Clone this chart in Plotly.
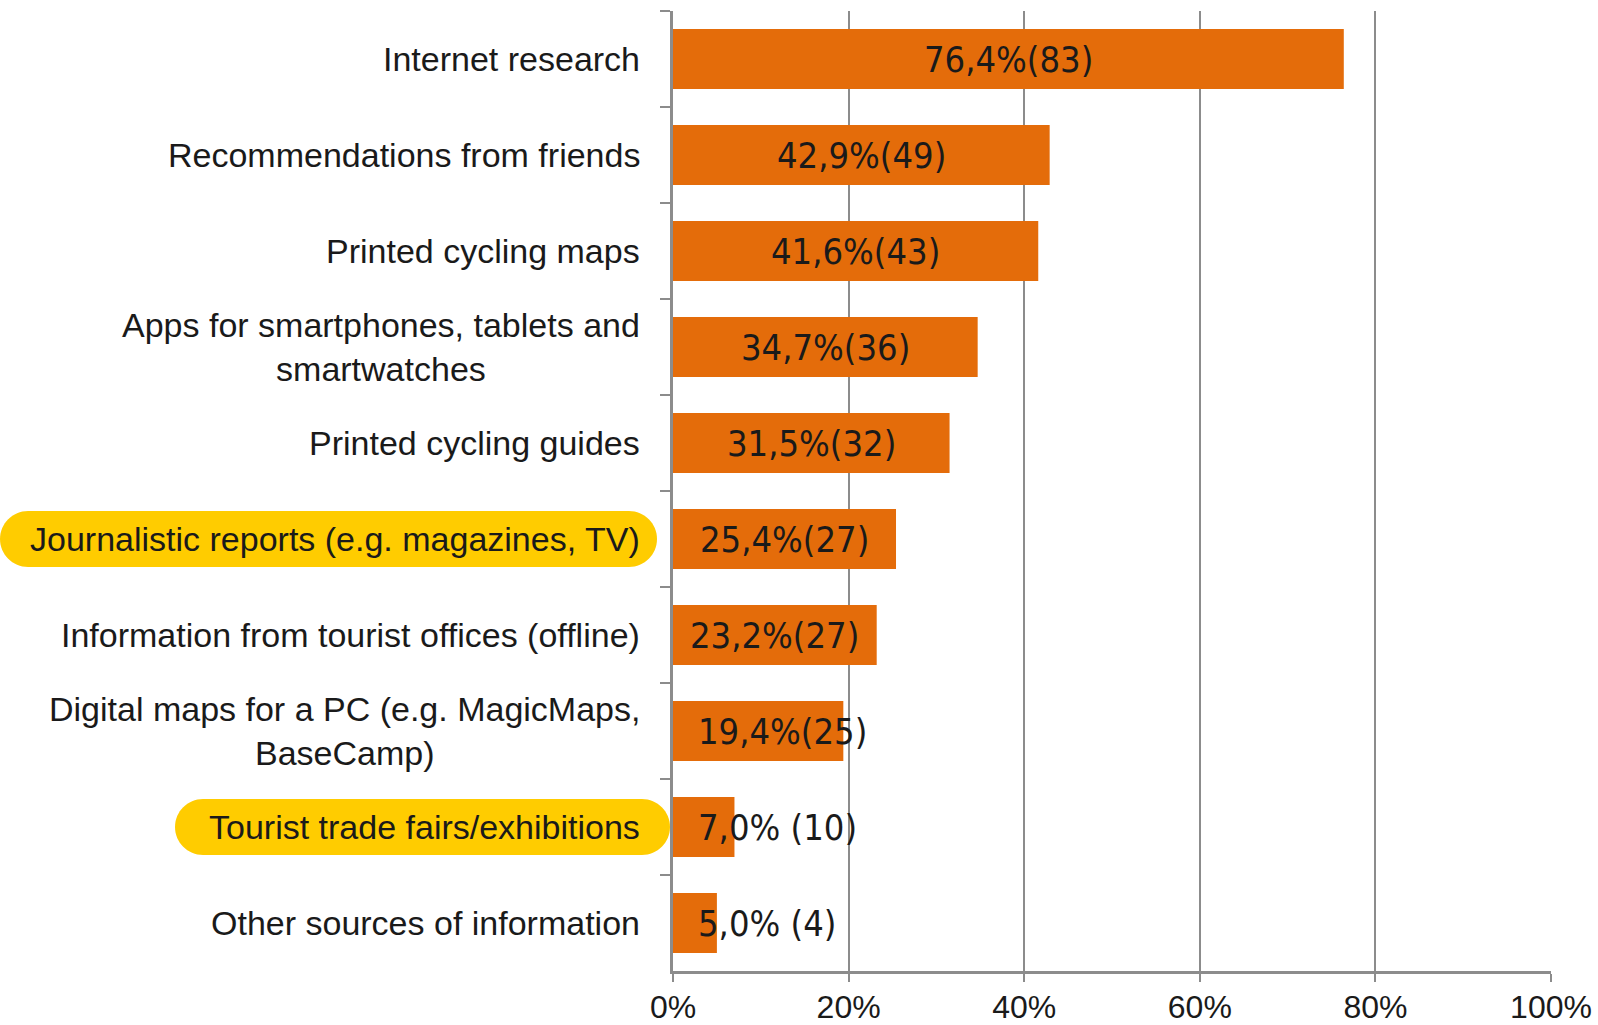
import plotly.graph_objects as go

categories = [
    "Internet research",
    "Recommendations from friends",
    "Printed cycling maps",
    "Apps for smartphones, tablets and<br>smartwatches",
    "Printed cycling guides",
    "Journalistic reports (e.g. magazines, TV)",
    "Information from tourist offices (offline)",
    "Digital maps for a PC (e.g. MagicMaps,<br>BaseCamp)",
    "Tourist trade fairs/exhibitions",
    "Other sources of information",
]
percent = [76.4, 42.9, 41.6, 34.7, 31.5, 25.4, 23.2, 19.4, 7.0, 5.0]
counts = [83, 49, 43, 36, 32, 27, 27, 25, 10, 4]
highlighted = ["Journalistic reports (e.g. magazines, TV)", "Tourist trade fairs/exhibitions"]
x_ticks = [0, 20, 40, 60, 80, 100]
x_tick_labels = ["0%", "20%", "40%", "60%", "80%", "100%"]

W, H = 1598, 1025
ML, MR, MT, MB = 673, 47, 11, 54
PW, PH = W - ML - MR, H - MT - MB
BAND = PH / len(categories)

BAR = "#E46C0A"
GRID = "#8C8C8C"
TXT = "#1A1A1A"
YELLOW = "#FFCC00"
SANS = "Liberation Sans, Arial, sans-serif"
NARROW = "Liberation Sans Narrow, Arial Narrow, DejaVu Sans Condensed, sans-serif"

fig = go.Figure(go.Bar(
    x=percent, y=categories, orientation="h",
    marker=dict(color=BAR, line=dict(width=0)),
    width=0.625, hoverinfo="skip",
))

annotations = []
# category labels (centered multi-line, right edge near the axis)
for c in categories:
    annotations.append(dict(
        x=-31 / PW, xref="paper", y=c, yref="y", text=c,
        xanchor="right", yanchor="middle", align="center", showarrow=False,
        font=dict(family=SANS, size=34, color=TXT),
    ))
# value labels
for c, v, n in zip(categories, percent, counts):
    pct = f"{v:.1f}".replace(".", ",") + "%"
    sep = "" if v >= 10 else " "
    label = f"{pct}{sep}({n})"
    if v / 2 >= 11:
        annotations.append(dict(x=v / 2, y=c, text=label, xanchor="center",
                                showarrow=False, font=dict(family=NARROW, size=36, color=TXT)))
    else:
        annotations.append(dict(x=2.6, y=c, text=label, xanchor="left",
                                showarrow=False, font=dict(family=NARROW, size=36, color=TXT)))


def to_paper(px, py):
    return (px - ML) / PW, (H - MB - py) / PH


def pill(px0, py0, px1, py1):
    r = (py1 - py0) / 2
    k = 0.5523 * r
    yc = (py0 + py1) / 2
    pts = [
        ("M", [(px0 + r, py0)]),
        ("L", [(px1 - r, py0)]),
        ("C", [(px1 - r + k, py0), (px1, yc - k), (px1, yc)]),
        ("C", [(px1, yc + k), (px1 - r + k, py1), (px1 - r, py1)]),
        ("L", [(px0 + r, py1)]),
        ("C", [(px0 + r - k, py1), (px0, yc + k), (px0, yc)]),
        ("C", [(px0, yc - k), (px0 + r - k, py0), (px0 + r, py0)]),
    ]
    s = ""
    for cmd, ps in pts:
        s += cmd + " " + " ".join("%.5f,%.5f" % to_paper(a, b) for a, b in ps) + " "
    return s + "Z"


pill_extent = {highlighted[0]: (0, 657), highlighted[1]: (175, 670)}
shapes = []
for name in highlighted:
    i = categories.index(name)
    yc = MT + BAND * (i + 0.5)
    x0, x1 = pill_extent[name]
    shapes.append(dict(type="path", xref="paper", yref="paper", path=pill(x0, yc - 28, x1, yc + 28),
                       fillcolor=YELLOW, line=dict(width=0), layer="below"))

fig.update_layout(
    width=W, height=H,
    margin=dict(l=ML, r=MR, t=MT, b=MB, autoexpand=False),
    paper_bgcolor="white", plot_bgcolor="white",
    showlegend=False,
    annotations=annotations,
    shapes=shapes,
    xaxis=dict(
        range=[0, 100], tickvals=x_ticks, ticktext=x_tick_labels,
        showgrid=True, gridcolor=GRID, gridwidth=2,
        showline=True, linecolor=GRID, linewidth=3,
        ticks="outside", ticklen=8, tickwidth=2, tickcolor=GRID,
        ticklabelstandoff=-2, zeroline=False,
        tickfont=dict(family=SANS, size=32, color=TXT),
    ),
    yaxis=dict(
        autorange="reversed", showticklabels=False, tickson="boundaries",
        ticks="outside", ticklen=10, tickwidth=2, tickcolor=GRID,
        showline=True, linecolor=GRID, linewidth=3, showgrid=False,
    ),
)

fig.write_html(
    "out.html",
    config={"displayModeBar": False},
    post_script="document.body.style.margin='0';document.body.style.overflow='hidden';",
)
